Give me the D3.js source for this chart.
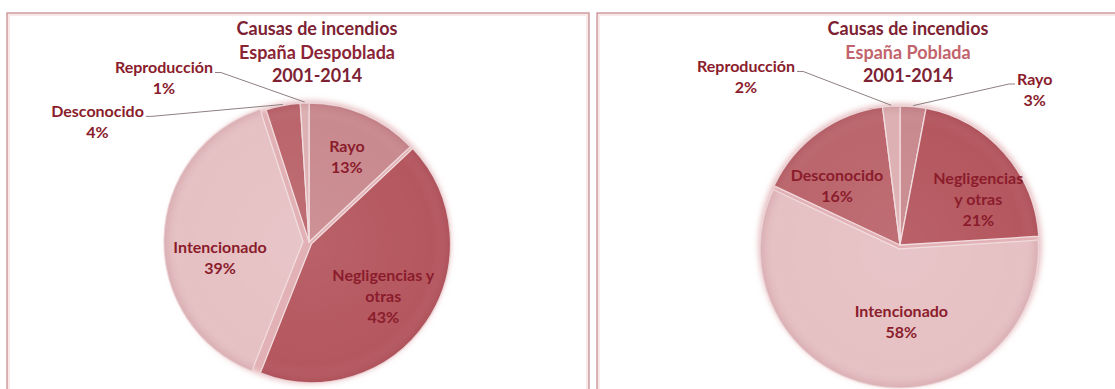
<!DOCTYPE html>
<html>
<head>
<meta charset="utf-8">
<script src="https://cdn.jsdelivr.net/npm/d3@7"></script>
<style>
  body { margin: 0; background: #fff; }
  svg { display: block; font-family: Lato, "Open Sans", sans-serif; }
</style>
</head>
<body>
<svg id="chart" width="1115" height="389"></svg>
<script>
// categories in clockwise order starting at 12 o'clock
const categories = ["Rayo", "Negligencias y otras", "Intencionado", "Desconocido", "Reproducción"];
const despobladaValues = [13, 43, 39, 4, 1];
const pobladaValues = [3, 21, 58, 16, 2];

const despobladaLabels = [["Rayo"], ["Negligencias y", "otras"], ["Intencionado"], ["Desconocido"], ["Reproducción"]];
const pobladaLabels = [["Rayo"], ["Negligencias", "y otras"], ["Intencionado"], ["Desconocido"], ["Reproducción"]];

const despobladaTitle = ["Causas de incendios", "España Despoblada", "2001-2014"];
const pobladaTitle = ["Causas de incendios", "España Poblada", "2001-2014"];

const colors = {
  "Rayo": "#c98a8f",
  "Negligencias y otras": "#b5575f",
  "Intencionado": "#e6c1c4",
  "Desconocido": "#bb656c",
  "Reproducción": "#ddb0b3"
};

const svg = d3.select("#chart");
const defs = svg.append("defs");

const glow = defs.append("filter").attr("id", "glow")
  .attr("x", "-20%").attr("y", "-20%").attr("width", "140%").attr("height", "140%");
glow.append("feGaussianBlur").attr("stdDeviation", 3);

const shade = defs.append("radialGradient").attr("id", "shade")
  .attr("gradientUnits", "userSpaceOnUse")
  .attr("cx", 0).attr("cy", 0).attr("r", 1);
shade.append("stop").attr("offset", "0%").attr("stop-color", "#fff").attr("stop-opacity", 0.06);
shade.append("stop").attr("offset", "88%").attr("stop-color", "#fff").attr("stop-opacity", 0);
shade.append("stop").attr("offset", "100%").attr("stop-color", "#7a2030").attr("stop-opacity", 0.12);

const panels = [
  {
    x: 7, w: 582, cx: 309, cy: 242, r: 139,
    values: despobladaValues, labels: despobladaLabels, title: despobladaTitle,
    subColor: "#8b2536",
    explode: { "Intencionado": 6, "Negligencias y otras": 3 },
    // label placement: polar angle (deg, clockwise from top) and radius factor
    place: {
      "Rayo": { a: 24, f: 0.67 },
      "Negligencias y otras": { a: 126, f: 0.66 },
      "Intencionado": { a: 260, f: 0.65 },
      "Desconocido": { a: 299.6, f: 1.75, out: true },
      "Reproducción": { a: 318.5, f: 1.575, out: true }
    }
  },
  {
    x: 597, w: 582, cx: 900, cy: 245, r: 139,
    values: pobladaValues, labels: pobladaLabels, title: pobladaTitle,
    subColor: "#c2646d",
    explode: { "Intencionado": 4 },
    place: {
      "Rayo": { a: 40.9, f: 1.48, out: true },
      "Negligencias y otras": { a: 60, f: 0.65 },
      "Intencionado": { a: 179, f: 0.55 },
      "Desconocido": { a: 313, f: 0.62 },
      "Reproducción": { a: 317.5, f: 1.64, out: true }
    }
  }
];

const labelColor = "#8a1c2c";
const titleColor = "#7d2233";
const lineH = 21;

const pie = d3.pie().sort(null).value(d => d.value);
const rad = Math.PI / 180;

panels.forEach(p => {
  // panel frame
  svg.append("rect")
    .attr("x", p.x + 1.5).attr("y", 14.5).attr("width", p.w - 3).attr("height", 400)
    .attr("fill", "none").attr("stroke", "#fbe9ea").attr("stroke-width", 3);
  svg.append("rect")
    .attr("x", p.x).attr("y", 13).attr("width", p.w).attr("height", 400)
    .attr("fill", "none").attr("stroke", "#c4878b").attr("stroke-width", 1.2);

  const data = categories.map((c, i) => ({ cat: c, value: p.values[i], lines: p.labels[i] }));
  const arcs = pie(data);
  const arc = d3.arc().innerRadius(0).outerRadius(p.r);
  const unitArc = d3.arc().innerRadius(0).outerRadius(1);

  const g = svg.append("g").attr("transform", `translate(${p.cx},${p.cy})`);

  g.append("circle").attr("r", p.r + 2).attr("fill", "#e2b1b5").attr("filter", "url(#glow)");

  const offset = d => {
    const e = p.explode[d.data.cat] || 0;
    const m = (d.startAngle + d.endAngle) / 2;
    return [Math.sin(m) * e, -Math.cos(m) * e];
  };

  const slices = g.selectAll("g.slice").data(arcs).enter().append("g")
    .attr("class", "slice")
    .attr("transform", d => `translate(${offset(d)})`);

  slices.append("path")
    .attr("d", arc)
    .attr("fill", d => colors[d.data.cat])
    .attr("stroke", "#f1dcde")
    .attr("stroke-width", 1.3)
    .attr("stroke-linejoin", "round");

  slices.append("path")
    .attr("transform", `scale(${p.r})`)
    .attr("d", unitArc)
    .attr("fill", "url(#shade)");

  // labels
  arcs.forEach(d => {
    const pl = p.place[d.data.cat];
    const lx = Math.sin(pl.a * rad) * p.r * pl.f;
    const ly = -Math.cos(pl.a * rad) * p.r * pl.f;
    const lines = d.data.lines.concat([d.data.value + "%"]);
    const t = g.append("text")
      .attr("text-anchor", "middle")
      .style("font-size", "16px")
      .style("font-weight", "bold")
      .style("fill", labelColor);
    lines.forEach((s, i) => {
      t.append("tspan")
        .attr("x", lx)
        .attr("y", ly + (i - (lines.length - 1) / 2) * lineH)
        .attr("dy", "0.35em")
        .text(s);
    });

    if (pl.out) {
      const w = t.select("tspan").node().getComputedTextLength();
      const y0 = ly - (lines.length - 1) / 2 * lineH + 5;
      const side = lx < 0 ? 1 : -1;
      const x0 = lx + side * (w / 2 + 2);
      const x1 = x0 + side * 6;
      const m = (d.startAngle + d.endAngle) / 2;
      const [ox, oy] = offset(d);
      const ex = ox + Math.sin(m) * (p.r + 1);
      const ey = oy - Math.cos(m) * (p.r + 1);
      g.insert("path", "text")
        .attr("d", d3.line()([[x0, y0], [x1, y0], [ex, ey]]))
        .attr("fill", "none")
        .attr("stroke", "#8e7f80")
        .attr("stroke-width", 1);
    }
  });

  // title
  const tt = svg.append("text")
    .attr("text-anchor", "middle")
    .style("font-size", "18px")
    .style("font-weight", "bold");
  p.title.forEach((s, i) => {
    tt.append("tspan")
      .attr("x", p.cx + 8)
      .attr("y", 29 + i * 23.5)
      .attr("dy", "0.35em")
      .style("fill", i === 1 ? p.subColor : titleColor)
      .text(s);
  });
});
</script>
</body>
</html>
